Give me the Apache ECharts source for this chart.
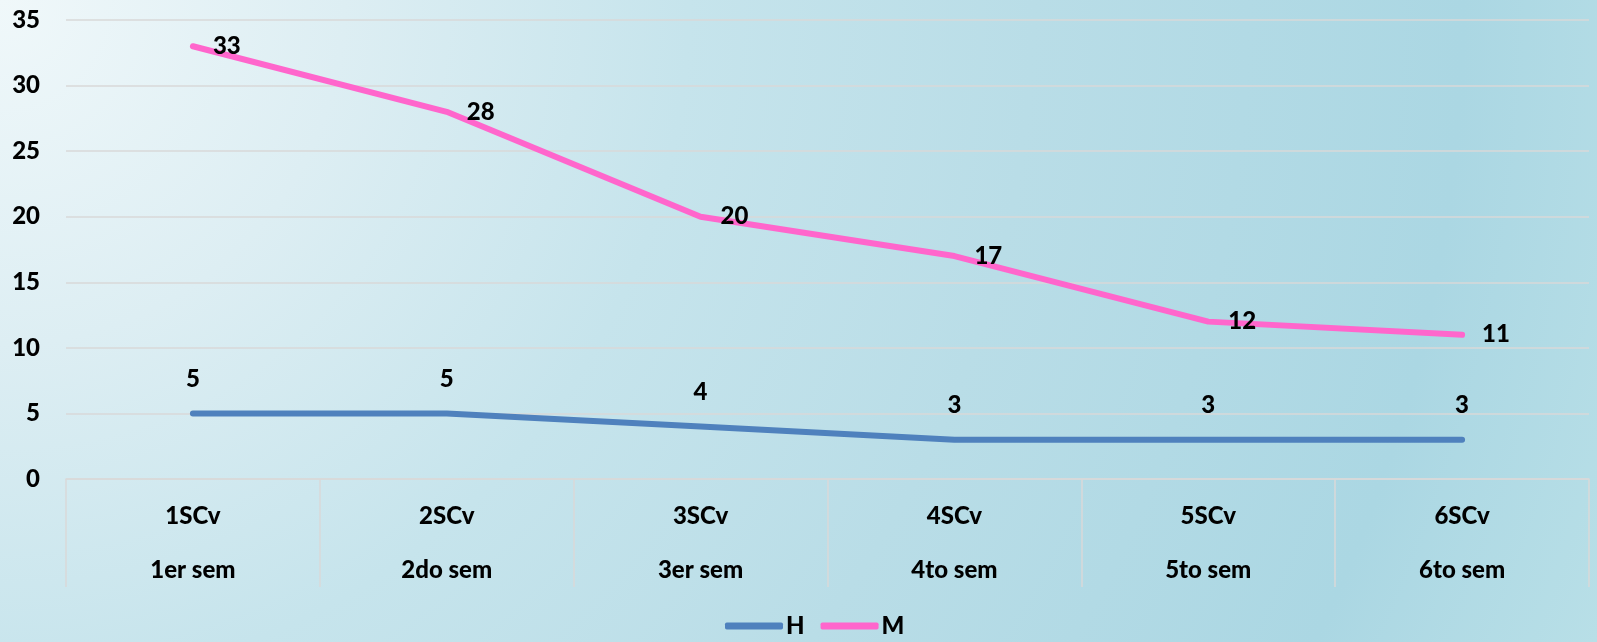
<!DOCTYPE html>
<html>
<head>
<meta charset="utf-8">
<script src="https://cdn.jsdelivr.net/npm/echarts@6/dist/echarts.min.js"></script>
<style>
html,body{margin:0;padding:0;width:1597px;height:642px;overflow:hidden;
background:radial-gradient(circle farthest-corner at 0 0,#f0f8fa 0%,#ddeef3 20%,#c6e4ec 40%,#b9dde7 60%,#abd7e3 85%,#b8dfe7 100%);}
#c{width:1597px;height:642px;}
</style>
</head>
<body>
<div id="c"></div>
<script>
const codes = ['1SCv','2SCv','3SCv','4SCv','5SCv','6SCv'];
const semesters = ['1er sem','2do sem','3er sem','4to sem','5to sem','6to sem'];
const seriesH = [5,5,4,3,3,3];
const seriesM = [33,28,20,17,12,11];
const yTicks = {min:0,max:35,interval:5};

const categories = codes.map((c,i)=>c+'\n'+semesters[i]);
const font = 'Lato';
const fs = 24;
const txt = {fontFamily:font,fontWeight:900,fontSize:fs,color:'#000'};
const chart = echarts.init(document.getElementById('c'), null, {renderer:'canvas'});
chart.setOption({
  backgroundColor:'transparent',
  animation:false,
  textStyle:txt,
  grid:{left:66,right:8,top:20,bottom:163,containLabel:false},
  legend:{
    top:609,left:720,itemWidth:58,itemHeight:7,itemGap:16,
    icon:'roundRect',
    textStyle:Object.assign({padding:[0,0,0,-2]},txt),
    data:['H','M']
  },
  xAxis:{
    type:'category',data:categories,boundaryGap:true,
    axisLine:{lineStyle:{color:'#d9d9d9',width:1.5}},
    axisTick:{show:true,interval:0,length:108,lineStyle:{color:'#d9d9d9',width:1.5}},
    axisLabel:Object.assign({interval:0,margin:10,lineHeight:54},txt)
  },
  yAxis:{
    type:'value',min:yTicks.min,max:yTicks.max,interval:yTicks.interval,
    axisLine:{show:false},axisTick:{show:false},
    splitLine:{lineStyle:{color:'#d9d9d9',width:1.5}},
    axisLabel:Object.assign({margin:26},txt)
  },
  series:[
    {name:'H',type:'line',data:seriesH,symbol:'circle',symbolSize:0,showSymbol:true,color:'#4f81bd',
     itemStyle:{color:'#4f81bd'},
     lineStyle:{width:6,cap:'round',join:'round',color:'#4f81bd'},
     label:Object.assign({show:true,position:'top',distance:22},txt)},
    {name:'M',type:'line',data:seriesM,symbol:'circle',symbolSize:0,showSymbol:true,color:'#ff66cc',
     itemStyle:{color:'#ff66cc'},
     lineStyle:{width:6,cap:'round',join:'round',color:'#ff66cc'},
     label:Object.assign({show:true,position:'right',distance:20},txt)}
  ]
});
</script>
</body>
</html>
